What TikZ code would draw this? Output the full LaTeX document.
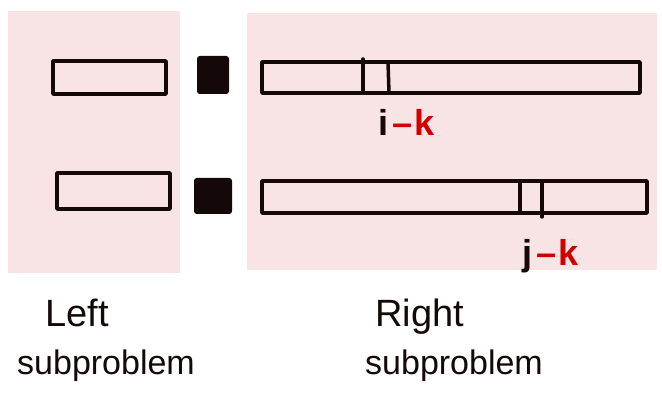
\documentclass[tikz,border=0pt]{standalone}
\usepackage{fontspec}
\setmainfont{Liberation Sans}
\definecolor{pinkbg}{RGB}{249,228,229}
\definecolor{ink}{RGB}{20,8,8}
\definecolor{redink}{RGB}{208,0,0}
\begin{document}
\begin{tikzpicture}[x=1pt,y=-1pt,
  stroke/.style={draw=ink,line width=3.5pt,line cap=round,line join=round},
  blk/.style={fill=ink,draw=ink,line width=2pt,rounded corners=2pt},
  lbl/.style={font=\fontsize{36}{36}\selectfont\bfseries,inner sep=0pt,anchor=base west},
  captxt/.style={font=\fontsize{34}{34}\selectfont,inner sep=0pt,anchor=base west,text=ink},
  headtxt/.style={font=\fontsize{38}{38}\selectfont,inner sep=0pt,anchor=base west,text=ink}]
\useasboundingbox (0,0) rectangle (662,395);
% backgrounds
\fill[pinkbg] (8,11) rectangle (180,273);
\fill[pinkbg] (247,13) rectangle (657,270);
% left subproblem bars
\draw[stroke] (53,61) rectangle (166,94);
\draw[stroke] (57,173) rectangle (170,209);
% black squares
\draw[blk] (198,57) rectangle (228,93);
\draw[blk] (195,179) rectangle (231,213);
% right bars
\draw[stroke] (262,62) rectangle (640,93);
\draw[stroke] (363,59) -- (363,93);
\draw[stroke] (388,62) -- (389,93);
\draw[stroke] (262,181) rectangle (647,213);
\draw[stroke] (520,181) -- (520,213);
\draw[stroke] (542,181) -- (542,217);
% labels
\node[lbl] (ik) at (378,136) {\textcolor{ink}{i}\hspace{4pt}\textcolor{redink}{–\hspace{2pt}k}};
\node[lbl] (jk) at (522,266) {\textcolor{ink}{j}\hspace{4pt}\textcolor{redink}{–\hspace{2pt}k}};
\node[headtxt] (left1) at (45,327) {Left};
\node[captxt] (left2) at (17,375) {subproblem};
\node[headtxt] (right1) at (375,327) {Right};
\node[captxt] (right2) at (365,375) {subproblem};
\end{tikzpicture}
\end{document}
